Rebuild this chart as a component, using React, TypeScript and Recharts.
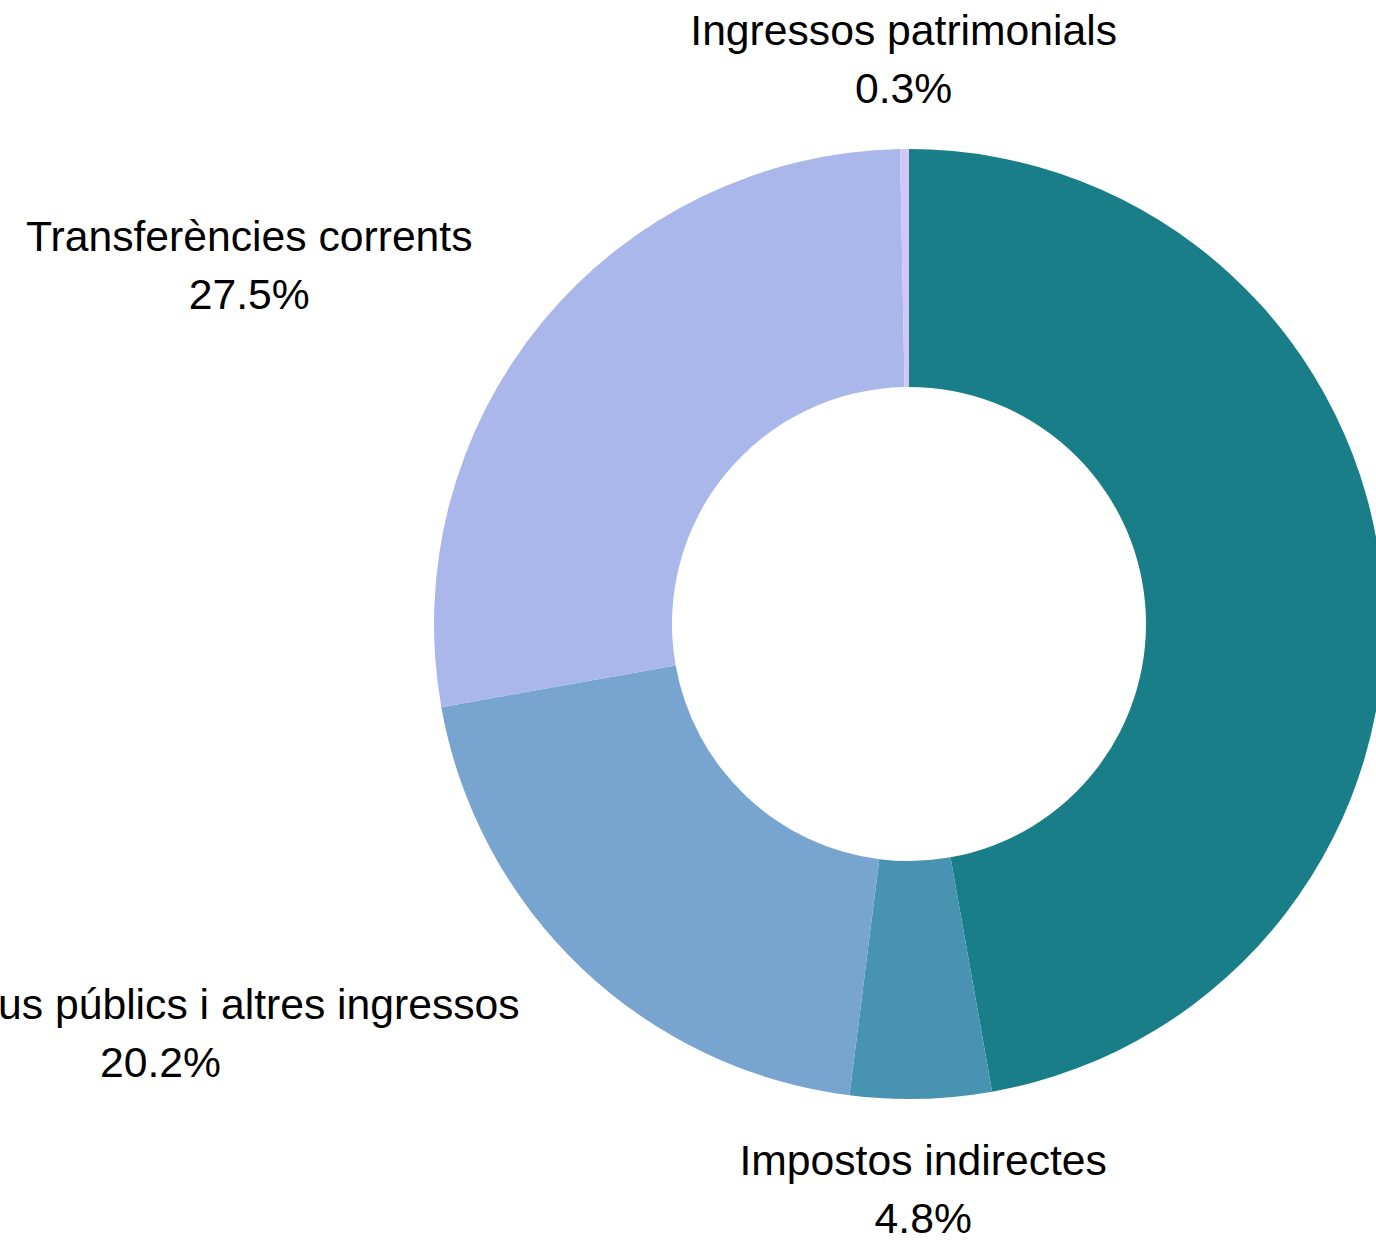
import { Cell, Pie, PieChart } from "recharts";

const categories = [
	"Impostos directes",
	"Impostos indirectes",
	"Taxes, preus públics i altres ingressos",
	"Transferències corrents",
	"Ingressos patrimonials",
];
const shares = [47.2, 4.8, 20.2, 27.5, 0.3];
const colors = ["#1a7e89", "#4893b2", "#77a5d0", "#a9b7eb", "#d3c6f6"];

const data = categories.map((name, i) => ({ name, value: shares[i] }));

const FONT_SIZE = 42.67;
const FONT = `${FONT_SIZE}px 'Liberation Sans', Arial, sans-serif`;
const RAD = Math.PI / 180;

let ctx: CanvasRenderingContext2D | null = null;
function textWidth(s: string) {
	if (!ctx) ctx = document.createElement("canvas").getContext("2d");
	if (!ctx) return s.length * FONT_SIZE * 0.5;
	ctx.font = FONT;
	return ctx.measureText(s).width;
}

function renderLabel(props: any) {
	const { cx, cy, midAngle, outerRadius, name, value } = props;
	const r = outerRadius + 90;
	const x = cx + r * Math.cos(-midAngle * RAD);
	const y = cy + r * Math.sin(-midAngle * RAD);
	const lines = [name, `${Number(value).toFixed(1)}%`];
	const w = Math.max(...lines.map(textWidth));
	const dx = x - cx;
	// block anchored by side, lines centred inside the block
	let center = x;
	if (Math.abs(dx) > r * 0.2) center = dx < 0 ? x - w / 2 : x + w / 2;
	return (
		<g>
			{lines.map((line, i) => (
				<text
					key={i}
					x={center}
					y={y - 14 + i * 58}
					textAnchor="middle"
					fill="#000"
					style={{ fontFamily: "'Liberation Sans', Arial, sans-serif", fontSize: FONT_SIZE }}
				>
					{line}
				</text>
			))}
		</g>
	);
}

export default function App() {
	return (
		<div style={{ position: "absolute", left: 0, top: 0, width: 1376, height: 1240, background: "#fff" }}>
			<PieChart width={1376} height={1240} margin={{ top: 0, right: 0, bottom: 0, left: 0 }}>
				<Pie
					data={data}
					dataKey="value"
					nameKey="name"
					cx={909}
					cy={624}
					innerRadius={237}
					outerRadius={475}
					startAngle={90}
					endAngle={-270}
					stroke="none"
					label={renderLabel}
					labelLine={false}
					isAnimationActive={false}
				>
					{data.map((d, i) => (
						<Cell key={d.name} fill={colors[i]} />
					))}
				</Pie>
			</PieChart>
		</div>
	);
}
